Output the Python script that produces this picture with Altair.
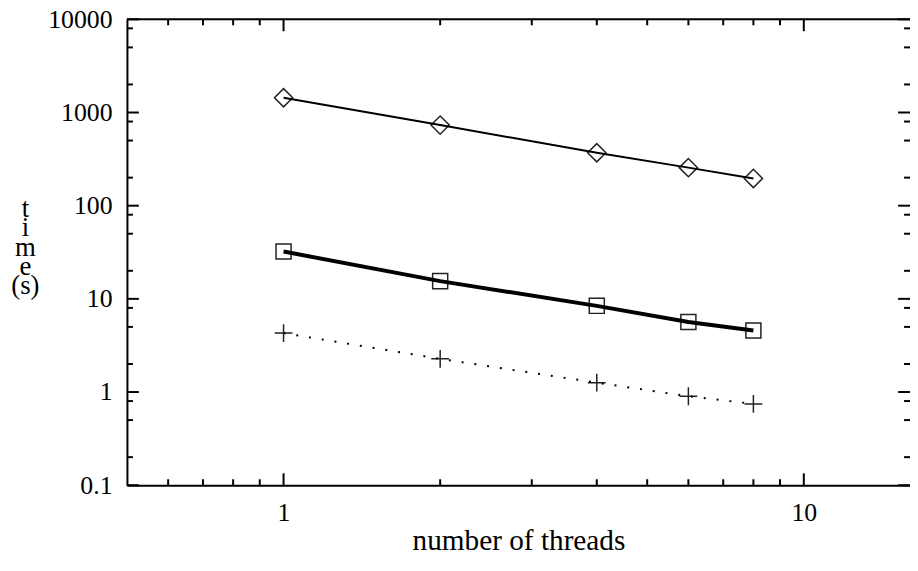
import altair as alt
import pandas as pd

# ---- data ----
threads = [1, 2, 4, 6, 8]
time_diamond = [1440, 733, 370, 256, 196]
time_square = [32.2, 15.5, 8.41, 5.65, 4.57]
time_plus = [4.29, 2.27, 1.26, 0.90, 0.745]

x_major = [1, 10]
x_minor = [0.6, 0.7, 0.8, 0.9, 2, 3, 4, 5, 6, 7, 8, 9]
y_major = [0.1, 1, 10, 100, 1000, 10000]
y_minor = [0.2, 0.5, 0.8, 2, 5, 8, 20, 50, 80, 200, 500, 800, 2000, 5000, 8000]
x_domain = [0.5, 16]
y_domain = [0.1, 10000]

x_title = "number of threads"
y_title = ["t", "i", "m", "e", "(s)"]

W, H = 790, 470
FONT = "'Liberation Serif', 'DejaVu Serif', serif"
MAJ, MIN = 12, 6

xs = alt.Scale(type="log", domain=x_domain, nice=False)
ys = alt.Scale(type="log", domain=y_domain, nice=False)


def series_df(vals):
    return pd.DataFrame({"threads": threads, "time": vals})


x_axis = alt.Axis(values=x_major, format="~g", ticks=False, domain=True,
                  domainColor="black", domainWidth=2, grid=False,
                  labelFont=FONT, labelFontSize=26, labelPadding=15,
                  labelColor="black", labelFlush=False, labelOverlap=False,
                  title=x_title, titleFont=FONT, titleFontSize=29.5,
                  titleFontWeight="normal", titleColor="black",
                  titleY=65, titleBaseline="alphabetic")
y_axis = alt.Axis(values=y_major, format="~g", ticks=False, domain=True,
                  domainColor="black", domainWidth=2, grid=False,
                  labelFont=FONT, labelFontSize=26, labelPadding=15,
                  labelColor="black", labelFlush=False, labelOverlap=False,
                  title=y_title, titleFont=FONT, titleFontSize=27,
                  titleFontWeight="normal", titleColor="black",
                  titleAngle=0, titleAlign="center", titleBaseline="alphabetic",
                  titleX=-103, titleY=199, titleLineHeight=19.5)


def X(field):
    return alt.X(field, scale=xs, axis=x_axis)


def Y(field):
    return alt.Y(field, scale=ys, axis=y_axis)


layers = []


def series_layers(vals, shape, size, line_w, dash=None):
    d = series_df(vals)
    pts = alt.Chart(d).mark_point(shape=shape, size=size, filled=False,
                                  stroke="#222", strokeWidth=1.5, opacity=1).encode(
        x=X("threads:Q"), y=Y("time:Q"))
    line_kw = dict(color="black", strokeWidth=line_w)
    if dash:
        line_kw["strokeDash"] = dash
    ln = alt.Chart(d).mark_line(**line_kw).encode(x=X("threads:Q"), y=Y("time:Q"))
    return [pts, ln]


layers += series_layers(time_diamond, "diamond", 340, 2)
layers += series_layers(time_square, "square", 230, 4)
layers += series_layers(time_plus, "M-1,0H1M0,-1V1", 324, 2, dash=[2, 11])


def yticks(vals, length):
    d = pd.DataFrame({"v": vals})
    left = alt.Chart(d).mark_rule(color="black", strokeWidth=2).encode(
        y=Y("v:Q"), x=alt.value(0), x2=alt.value(length))
    right = alt.Chart(d).mark_rule(color="black", strokeWidth=2).encode(
        y=Y("v:Q"), x=alt.value(W), x2=alt.value(W - length))
    return [left, right]


def xticks(vals, length):
    d = pd.DataFrame({"v": vals})
    bottom = alt.Chart(d).mark_rule(color="black", strokeWidth=2).encode(
        x=X("v:Q"), y=alt.value(H), y2=alt.value(H - length))
    top = alt.Chart(d).mark_rule(color="black", strokeWidth=2).encode(
        x=X("v:Q"), y=alt.value(0), y2=alt.value(length))
    return [bottom, top]


layers += yticks(y_major, MAJ) + yticks(y_minor, MIN)
layers += xticks(x_major, MAJ) + xticks(x_minor, MIN)

# top frame line
layers.append(alt.Chart(pd.DataFrame({"v": [0]})).mark_rule(color="black", strokeWidth=2).encode(
    x=alt.value(0), x2=alt.value(W), y=alt.value(0)))

chart = alt.layer(*layers).properties(
    width=W, height=H,
    autosize=alt.AutoSizeParams(type="none"),
    padding={"left": 120, "top": 9, "right": 0, "bottom": 70},
    background="white",
).configure_view(stroke="transparent").configure(font=FONT)

chart.save("out.html", embed_options={"renderer": "svg", "actions": False})
